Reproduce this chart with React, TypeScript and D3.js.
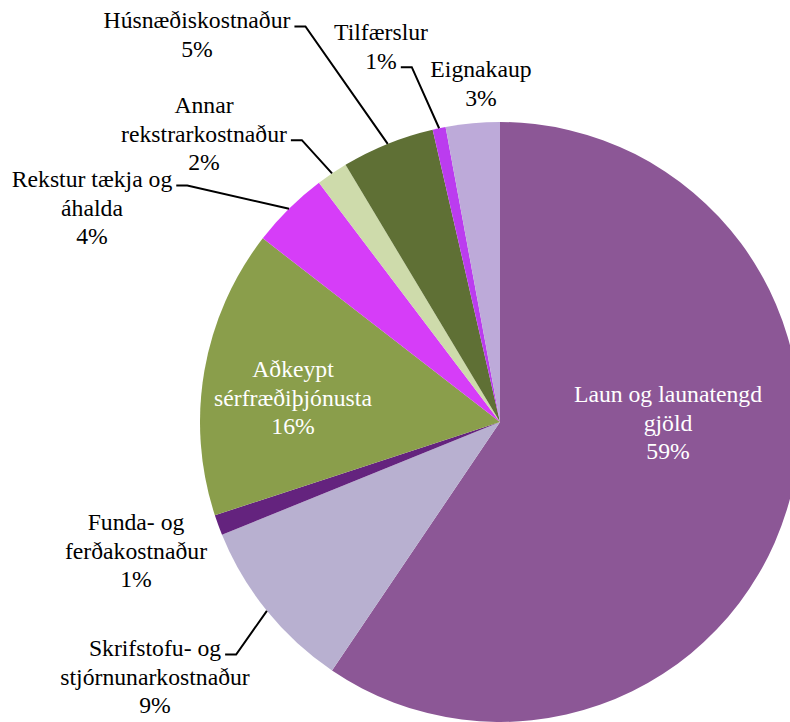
import * as d3 from "d3";

// slice order runs clockwise from 12 o'clock
const categories = [
  "Laun og launatengd gjöld",
  "Skrifstofu- og stjórnunarkostnaður",
  "Funda- og ferðakostnaður",
  "Aðkeypt sérfræðiþjónusta",
  "Rekstur tækja og áhalda",
  "Annar rekstrarkostnaður",
  "Húsnæðiskostnaður",
  "Tilfærslur",
  "Eignakaup",
];
const values = [59.4, 9.4, 1.1, 15.5, 4.2, 1.7, 5.0, 0.7, 2.9];
const colors = [
  "#8c5796",
  "#b8b0d0",
  "#64237e",
  "#8a9e4b",
  "#d63df8",
  "#cedbab",
  "#5f7035",
  "#bb3cef",
  "#bdaad9",
];

// how each label's text is broken into lines
const labelLines = [
  ["Laun og launatengd", "gjöld"],
  ["Skrifstofu- og", "stjórnunarkostnaður"],
  ["Funda- og", "ferðakostnaður"],
  ["Aðkeypt", "sérfræðiþjónusta"],
  ["Rekstur tækja og", "áhalda"],
  ["Annar", "rekstrarkostnaður"],
  ["Húsnæðiskostnaður"],
  ["Tilfærslur"],
  ["Eignakaup"],
];

const width = 790;
const height = 722;
const cx = 500;
const cy = 422;
const radius = 300;
const fontSize = 23.7;
const lineHeight = 28.7;
const fontFamily = "Liberation Serif";

// label layout: centre x, first baseline y, inside?, which line gets the leader (-1 none)
const layout = [
  { x: 668, y: 402, inside: true, leader: -1 },
  { x: 155, y: 656, inside: false, leader: 0 },
  { x: 136, y: 530, inside: false, leader: -1 },
  { x: 293, y: 377, inside: true, leader: -1 },
  { x: 92, y: 187, inside: false, leader: 0 },
  { x: 204, y: 113, inside: false, leader: 1 },
  { x: 197, y: 28, inside: false, leader: 0 },
  { x: 381, y: 40, inside: false, leader: 1 },
  { x: 481, y: 77, inside: false, leader: -1 },
];

const ctx = document.createElement("canvas").getContext("2d")!;
ctx.font = `${fontSize}px "${fontFamily}"`;
const textWidth = (s: string) => ctx.measureText(s).width;

const App = () => {
  const total = d3.sum(values);
  const pie = d3
    .pie<number>()
    .value((d) => d)
    .sort(null)
    .startAngle(0)
    .endAngle(2 * Math.PI);
  const arcs = pie(values);
  const arc = d3.arc<d3.PieArcDatum<number>>().innerRadius(0).outerRadius(radius);

  return (
    <svg
      width={width}
      height={height}
      style={{ position: "absolute", left: 0, top: 0, background: "#fff" }}
    >
      <g transform={`translate(${cx},${cy})`}>
        {arcs.map((a, i) => (
          <path key={categories[i]} d={arc(a) ?? ""} fill={colors[i]} />
        ))}
      </g>
      {arcs.map((a, i) => {
        const L = layout[i];
        const lines = [
          ...labelLines[i],
          `${Math.round((values[i] / total) * 100)}%`,
        ];
        let leader = null;
        if (L.leader >= 0) {
          const x0 = L.x + textWidth(lines[L.leader]) / 2 + 4;
          const y0 = L.y + L.leader * lineHeight - 1.5;
          const mid = (a.startAngle + a.endAngle) / 2;
          const ex = cx + radius * Math.sin(mid);
          const ey = cy - radius * Math.cos(mid);
          leader = (
            <path
              d={d3.line()([[x0, y0], [x0 + 11, y0], [ex, ey]]) ?? ""}
              fill="none"
              stroke="#000"
              strokeWidth={2}
            />
          );
        }
        return (
          <g key={categories[i]}>
            {lines.map((ln, k) => (
              <text
                key={k}
                x={L.x}
                y={L.y + k * lineHeight}
                textAnchor="middle"
                fill={L.inside ? "#ffffff" : "#000000"}
                style={{ fontFamily, fontSize }}
              >
                {ln}
              </text>
            ))}
            {leader}
          </g>
        );
      })}
    </svg>
  );
};

export default App;
